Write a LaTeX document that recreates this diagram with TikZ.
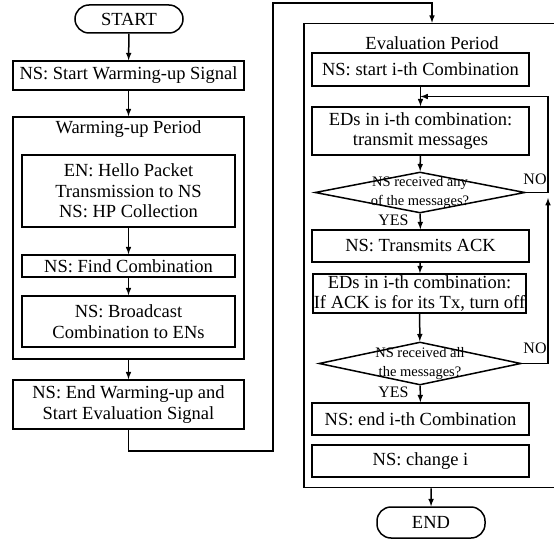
\documentclass[tikz,border=0pt]{standalone}
\usepackage{fontspec}
\setmainfont{Liberation Serif}
\usetikzlibrary{shapes.geometric,calc}

\tikzset{
  box/.style={draw,rectangle,inner sep=0pt,align=center,
    font=\fontsize{18.5}{20.5}\selectfont},
  frame/.style={draw,rectangle,inner sep=0pt},
  term/.style={draw,rectangle,rounded corners=14pt,minimum width=108pt,
    inner sep=0pt,font=\fontsize{18.5}{20.5}\selectfont},
  dia/.style={draw,diamond,inner sep=0pt},
  dtxt/.style={inner sep=0pt,align=center,font=\fontsize{14.5}{19}\selectfont},
  lbl/.style={inner sep=0pt,font=\fontsize{16}{18}\selectfont},
  ttl/.style={inner sep=0pt,font=\fontsize{18.5}{20.5}\selectfont}
}

\begin{document}
\begin{tikzpicture}[x=1pt,y=-1pt,line width=1.5pt]
  \path[use as bounding box,clip] (0,0) rectangle (554,540);

  % left column
  \node[term,minimum height=28pt] (start) at (129,19) {START};
  \node[box,minimum width=231pt,minimum height=29pt] (sig) at (128.5,75.5) {NS: Start Warming-up Signal};
  \node[frame,minimum width=231pt,minimum height=242pt] (warm) at (128.5,238) {};
  \node[ttl] (wtitle) at (128.5,129) {Warming-up Period};
  \node[box,minimum width=213pt,minimum height=72pt] (hello) at (128.5,191) {EN: Hello Packet\\Transmission to NS\\NS: HP Collection};
  \node[box,minimum width=213pt,minimum height=22pt] (find) at (128.5,266) {NS: Find Combination};
  \node[box,minimum width=213pt,minimum height=51pt] (bcast) at (128.5,321.5) {NS: Broadcast\\Combination to ENs};
  \node[box,minimum width=231pt,minimum height=49pt] (endw) at (128.5,404.5) {NS: End Warming-up and\\Start Evaluation Signal};

  \draw[-latex] (start) -- (sig);
  \draw[-latex] (sig) -- (warm);
  \draw[-latex] (hello) -- (find);
  \draw[-latex] (find) -- (bcast);
  \draw[-latex] (warm) -- (endw);

  % right column
  \node[frame,minimum width=256pt,minimum height=464pt] (eval) at (432,255.5) {};
  \node[ttl] (etitle) at (432,43) {Evaluation Period};
  \node[box,minimum width=217pt,minimum height=33pt] (starti) at (420.5,69.5) {NS: start i-th Combination};
  \node[box,minimum width=217pt,minimum height=48pt] (tx) at (420.5,131) {EDs in i-th combination:\\transmit messages};
  \node[dia,minimum width=210pt,minimum height=41pt] (d1) at (420,192.5) {};
  \node[dtxt] (q1) at (d1) {NS received any\\of the messages?};
  \node[box,minimum width=217pt,minimum height=32pt] (ack) at (420.5,246) {NS: Transmits ACK};
  \node[box,minimum width=213pt,minimum height=39pt] (off) at (419.5,293.5) {EDs in i-th combination:\\If ACK is for its Tx, turn off};
  \node[dia,minimum width=202pt,minimum height=43pt] (d2) at (420,363.5) {};
  \node[dtxt] (q2) at (d2) {NS received all\\the messages?};
  \node[box,minimum width=217pt,minimum height=32pt] (endi) at (420.5,419) {NS: end i-th Combination};
  \node[box,minimum width=217pt,minimum height=32pt] (chg) at (420.5,461) {NS: change i};
  \node[term,minimum height=31pt] (end) at (431,522.5) {END};

  \node[lbl] (yes1) at (393.5,220) {YES};
  \node[lbl] (no1) at (535,179) {NO};
  \node[lbl] (yes2) at (393.5,392) {YES};
  \node[lbl] (no2) at (535,348) {NO};

  \coordinate (jog) at (273,3);
  \coordinate (loop) at (548,0);
  \coordinate (m1) at ($(starti.south)!.5!(tx.north)$);

  \draw[-latex] (endw) -- ++(0,46.5) -| (jog) -| (eval.north);
  \draw[-latex] (starti) -- (tx);
  \draw[-latex] (tx) -- (d1);
  \draw[-latex] (d1) -- (ack);
  \draw[-latex] (ack) -- (off);
  \draw[-latex] (off) -- (d2);
  \draw[-latex] (d2) -- (endi);
  \draw[-latex] (eval) -- (end);
  \draw[-latex] (d1.east) -- (d1.east -| loop) |- (m1);
  \draw[-latex] (d2.east) -- (d2.east -| loop) -- ([yshift=-5.5pt]d1.east -| loop);
\end{tikzpicture}
\end{document}
